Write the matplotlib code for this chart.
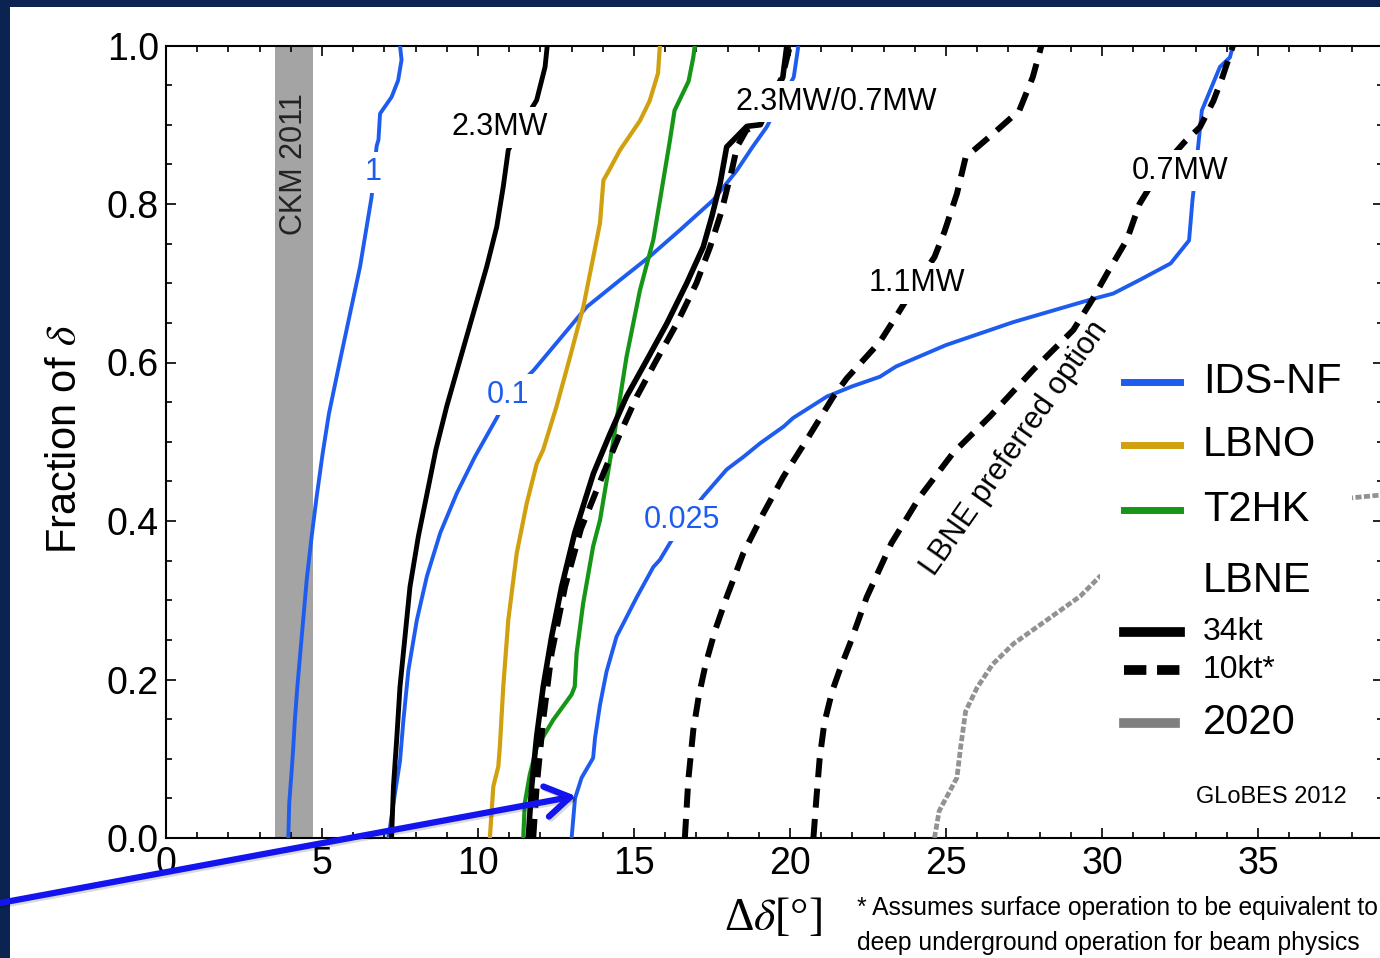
import matplotlib
matplotlib.use("Agg")
import matplotlib.pyplot as plt
from matplotlib.patches import Rectangle
from matplotlib.lines import Line2D
from matplotlib.ticker import MultipleLocator, FormatStrFormatter
import matplotlib.patheffects as pe

plt.rcParams['font.family'] = ['Liberation Sans', 'DejaVu Sans']
plt.rcParams['mathtext.fontset'] = 'stix'

# --- data: (delta delta [deg], fraction of delta) ---
# IDS-NF, three curves
ids1_x = [3.92, 3.95, 4.03, 4.08, 4.13, 4.21, 4.35, 4.51, 4.67, 4.83, 5.02, 5.22, 5.58, 5.9, 6.22,
          6.43, 6.59, 6.75, 6.81, 6.86, 7.23, 7.44, 7.55, 7.5]
ids1_y = [0.0, 0.044, 0.086, 0.115, 0.149, 0.191, 0.254, 0.326, 0.381, 0.431, 0.485, 0.535, 0.603,
          0.662, 0.721, 0.771, 0.809, 0.873, 0.881, 0.914, 0.935, 0.956, 0.982, 1.0]

ids01_x = [7.13, 7.29, 7.5, 7.61, 7.77, 8.04, 8.36, 8.79, 9.32, 9.9, 10.6, 11.0, 11.78, 12.63, 13.48,
           14.55, 15.51, 16.47, 17.54, 18.29, 18.8, 19.25, 19.7, 20.12, 20.27]
ids01_y = [0.0, 0.044, 0.097, 0.149, 0.212, 0.275, 0.33, 0.385, 0.435, 0.481, 0.53, 0.56, 0.59, 0.63,
           0.67, 0.704, 0.734, 0.767, 0.805, 0.842, 0.872, 0.897, 0.93, 0.96, 1.0]

ids0025_x = [13.0, 13.11, 13.32, 13.69, 13.75, 13.91, 14.12, 14.44, 15.09, 15.62, 15.83, 16.15, 16.6,
             17.22, 17.97, 18.51, 19.04, 19.79, 20.1, 21.18, 22.0, 22.88, 23.4, 25.0, 27.16, 29.6,
             30.36, 31.2, 32.2, 32.79, 32.9, 33.0, 33.08, 33.2, 33.78, 34.1, 34.2]
ids0025_y = [0.0, 0.05, 0.076, 0.101, 0.126, 0.168, 0.21, 0.254, 0.304, 0.342, 0.351, 0.372, 0.4,
             0.431, 0.465, 0.481, 0.498, 0.519, 0.53, 0.557, 0.57, 0.582, 0.595, 0.622, 0.651, 0.679,
             0.687, 0.704, 0.725, 0.754, 0.805, 0.84, 0.872, 0.918, 0.973, 0.985, 1.0]

# LBNO, T2HK
lbno_x = [10.38, 10.49, 10.65, 10.7, 10.81, 10.97, 11.24, 11.56, 11.88, 12.09, 12.52, 12.95, 13.38,
          13.7, 13.91, 14.02, 14.18, 14.55, 15.19, 15.5, 15.77, 15.83]
lbno_y = [0.0, 0.065, 0.09, 0.115, 0.191, 0.275, 0.359, 0.422, 0.472, 0.49, 0.545, 0.607, 0.671,
          0.734, 0.776, 0.83, 0.841, 0.868, 0.905, 0.93, 0.965, 1.0]

t2hk_x = [11.45, 11.5, 11.66, 11.88, 12.41, 13.0, 13.1, 13.16, 13.37, 13.69, 13.91, 14.34, 14.76,
          15.19, 15.62, 15.85, 16.15, 16.3, 16.75, 16.9, 16.95]
t2hk_y = [0.0, 0.044, 0.08, 0.114, 0.149, 0.181, 0.191, 0.233, 0.296, 0.368, 0.401, 0.502, 0.607,
          0.691, 0.755, 0.809, 0.88, 0.918, 0.955, 0.985, 1.0]

# LBNE 34kt (solid)
lbne_23_x = [7.23, 7.29, 7.4, 7.5, 7.66, 7.82, 8.09, 8.41, 8.65, 9.0, 9.42, 9.85, 10.28, 10.6, 10.81,
             10.97, 11.4, 11.88, 12.15, 12.22]
lbne_23_y = [0.0, 0.065, 0.128, 0.191, 0.254, 0.317, 0.381, 0.443, 0.49, 0.545, 0.603, 0.662, 0.721,
             0.771, 0.822, 0.868, 0.9, 0.931, 0.973, 1.0]

lbne34_x = [11.61, 11.72, 11.88, 12.09, 12.36, 12.68, 13.1, 13.7, 14.23, 14.76, 15.41, 16.05, 16.69,
            17.22, 17.5, 17.76, 17.97, 18.62, 19.05, 19.77, 19.9]
lbne34_y = [0.0, 0.065, 0.128, 0.191, 0.254, 0.317, 0.385, 0.46, 0.51, 0.557, 0.603, 0.649, 0.7,
            0.746, 0.785, 0.826, 0.872, 0.898, 0.9, 0.96, 1.0]

# LBNE 10kt (dashed)
lbne10_23_x = [11.77, 11.88, 12.09, 12.36, 12.79, 13.3, 14.02, 14.55, 15.09, 15.72, 16.37, 17.0,
               17.44, 17.8, 17.97, 18.15, 18.3, 18.6, 18.93, 19.75, 20.0]
lbne10_23_y = [0.0, 0.065, 0.149, 0.233, 0.317, 0.39, 0.46, 0.51, 0.557, 0.603, 0.649, 0.7, 0.746,
               0.79, 0.817, 0.845, 0.872, 0.893, 0.9, 0.96, 1.0]

lbne10_11_x = [16.63, 16.74, 16.9, 17.08, 17.3, 17.6, 17.97, 18.5, 19.15, 19.79, 20.53, 21.39, 21.82,
               22.88, 23.4, 24.06, 24.63, 24.95, 25.35, 25.63, 26.49, 27.35, 27.78, 28.06]
lbne10_11_y = [0.0, 0.073, 0.136, 0.18, 0.22, 0.262, 0.304, 0.359, 0.41, 0.456, 0.502, 0.557, 0.58,
               0.626, 0.658, 0.7, 0.733, 0.765, 0.813, 0.859, 0.888, 0.918, 0.96, 1.0]

lbne10_07_x = [20.75, 20.85, 20.95, 21.1, 21.35, 21.62, 21.92, 22.46, 23.25, 24.17, 25.23, 26.41,
               27.8, 29.08, 29.7, 30.2, 30.8, 31.2, 31.9, 32.64, 33.14, 33.57, 33.86, 34.2]
lbne10_07_y = [0.0, 0.052, 0.1, 0.145, 0.185, 0.215, 0.245, 0.304, 0.372, 0.431, 0.486, 0.532,
               0.591, 0.641, 0.68, 0.715, 0.755, 0.8, 0.845, 0.878, 0.897, 0.93, 0.96, 1.0]

# 2020
y2020_x = [24.63, 24.78, 25.35, 25.48, 25.63, 26.0, 26.49, 27.16, 28.23, 29.3, 29.93, 31.5, 33.0,
           35.0, 37.0, 38.2, 39.0]
y2020_y = [0.0, 0.034, 0.076, 0.118, 0.16, 0.19, 0.219, 0.245, 0.275, 0.305, 0.33, 0.36, 0.385,
           0.41, 0.425, 0.43, 0.433]

ckm_band = (3.48, 4.70)

xticks = [0, 5, 10, 15, 20, 25, 30, 35]
yticks = [0.0, 0.2, 0.4, 0.6, 0.8, 1.0]

legend_labels = ['IDS-NF', 'LBNO', 'T2HK', 'LBNE', '34kt', '10kt*', '2020']

BLUE = '#1e5cf0'
GOLD = '#d1a00f'
GREEN = '#169616'
NAVY = '#0b2350'

fig = plt.figure(figsize=(13.8, 9.58), dpi=100)
fig.patch.set_facecolor(NAVY)
fig.patches.append(Rectangle((10 / 1380, 0), 1, (958 - 7) / 958, transform=fig.transFigure,
                             facecolor='white', edgecolor='none', zorder=-10))

ax = fig.add_axes([166 / 1380, 120 / 958, 1216.8 / 1380, 792.5 / 958])
ax.set_xlim(0, 39)
ax.set_ylim(0, 1)
ax.set_facecolor('white')

ax.axvspan(ckm_band[0], ckm_band[1], color='#a4a4a4', lw=0, zorder=1)
ax.text(sum(ckm_band) / 2, 0.85, 'CKM 2011', rotation=90, ha='center', va='center',
        fontsize=22, color='#222222', zorder=2)

dash = (0, (3.2, 1.9))
ax.plot(ids1_x, ids1_y, color=BLUE, lw=2.8, zorder=3)
ax.plot(ids01_x, ids01_y, color=BLUE, lw=2.8, zorder=3)
ax.plot(ids0025_x, ids0025_y, color=BLUE, lw=2.8, zorder=3)
ax.plot(lbno_x, lbno_y, color=GOLD, lw=3, zorder=3)
ax.plot(t2hk_x, t2hk_y, color=GREEN, lw=3, zorder=3)
ax.plot(lbne_23_x, lbne_23_y, color='black', lw=3.5, zorder=3)
ax.plot(lbne34_x, lbne34_y, color='black', lw=4, zorder=3)
ax.plot(lbne10_23_x, lbne10_23_y, color='black', lw=4.3, ls=dash, zorder=3)
ax.plot(lbne10_11_x, lbne10_11_y, color='black', lw=4.3, ls=dash, zorder=3)
ax.plot(lbne10_07_x, lbne10_07_y, color='black', lw=4.3, ls=dash, zorder=3)
ax.plot(y2020_x, y2020_y, color='#929292', lw=3.4, ls=(0, (1.3, 0.5)), zorder=3)

# curve labels (white background cuts the line like the original)
box = dict(facecolor='white', edgecolor='none', pad=4)
ax.text(6.63, 0.84, '1', color=BLUE, fontsize=22, ha='center', va='center', bbox=box, zorder=5)
ax.text(10.71, 0.897, '2.3MW', fontsize=22, ha='center', va='center', bbox=box, zorder=5)
ax.text(10.95, 0.559, '0.1', color=BLUE, fontsize=22, ha='center', va='center', bbox=box, zorder=5)
ax.text(16.53, 0.401, '0.025', color=BLUE, fontsize=22, ha='center', va='center', bbox=box, zorder=5)
ax.text(21.48, 0.929, '2.3MW/0.7MW', fontsize=22, ha='center', va='center', bbox=box, zorder=5)
ax.text(24.06, 0.70, '1.1MW', fontsize=22, ha='center', va='center', bbox=box, zorder=5)
ax.text(32.5, 0.842, '0.7MW', fontsize=22, ha='center', va='center', bbox=box, zorder=5)
ax.text(27.2, 0.492, 'LBNE preferred option', fontsize=22, rotation=55, ha='center',
        va='center', rotation_mode='anchor', zorder=5)

# legend drawn by hand (uneven rows, mixed sizes)
ax.add_patch(Rectangle((0.7676, 0.08), 0.207, 0.536, transform=ax.transAxes,
                       facecolor='white', edgecolor='none', zorder=6))
rows_y = [0.5754, 0.4959, 0.4139, 0.3243, 0.2599, 0.2120, 0.1451]
handles = [dict(color=BLUE, lw=5), dict(color=GOLD, lw=5), dict(color=GREEN, lw=5), None,
           dict(color='black', lw=7), dict(color='black', lw=7, ls=(0, (2.3, 1.1))),
           dict(color='#808080', lw=7)]
sizes = [30, 30, 30, 30, 23, 23, 30]
for lab, yy, hd, fs in zip(legend_labels, rows_y, handles, sizes):
    if hd is not None:
        x1 = 0.8333 if lab != '2020' else 0.829
        ax.add_line(Line2D([0.7873, x1], [yy, yy], transform=ax.transAxes, zorder=7, **hd))
    ax.text(0.8522, yy, lab, fontsize=fs, ha='left', va='center', transform=ax.transAxes, zorder=7)
ax.text(0.8465, 0.0517, 'GLoBES 2012', fontsize=17, ha='left', va='center',
        transform=ax.transAxes, zorder=7)

# axes, ticks
ax.set_xticks(xticks)
ax.set_yticks(yticks)
ax.xaxis.set_minor_locator(MultipleLocator(1))
ax.yaxis.set_minor_locator(MultipleLocator(0.05))
ax.yaxis.set_major_formatter(FormatStrFormatter('%.1f'))
ax.tick_params(which='both', direction='in', top=True, right=True, labelsize=27, width=1.2)
ax.tick_params(which='major', length=7.5)
ax.tick_params(which='minor', length=4.5)
ax.tick_params(axis='y', pad=5)
ax.tick_params(axis='x', pad=6)
for s in ax.spines.values():
    s.set_linewidth(1.5)

ax.text(-0.083, 0.503, r'Fraction of $\delta$', rotation=90, fontsize=30, ha='center',
        va='center', transform=ax.transAxes)
ax.text(0.499, -0.101, 'Δ$\\delta$[°]', fontsize=33, ha='center', va='center',
        family=['Liberation Serif', 'DejaVu Serif'], transform=ax.transAxes)

fig.text(857 / 1380, (958 - 908) / 958, '* Assumes surface operation to be equivalent to',
         fontsize=17.7, ha='left', va='center')
fig.text(857 / 1380, (958 - 943) / 958, 'deep underground operation for beam physics',
         fontsize=17.7, ha='left', va='center')

# blue arrow from the slide pointing at the 0.025 curve
ax.annotate('', xy=(13.14, 0.053), xycoords='data', xytext=(0, 55), textcoords='figure pixels',
            arrowprops=dict(arrowstyle='->,head_length=0.8,head_width=0.5', lw=4.5,
                            color='#1414ee', shrinkA=0, shrinkB=0, mutation_scale=22,
                            path_effects=[pe.SimpleLineShadow(offset=(1.5, -1.5), alpha=0.15),
                                          pe.Normal()]),
            annotation_clip=False, zorder=8)

fig.savefig('out.png', dpi=100, facecolor=fig.get_facecolor())
